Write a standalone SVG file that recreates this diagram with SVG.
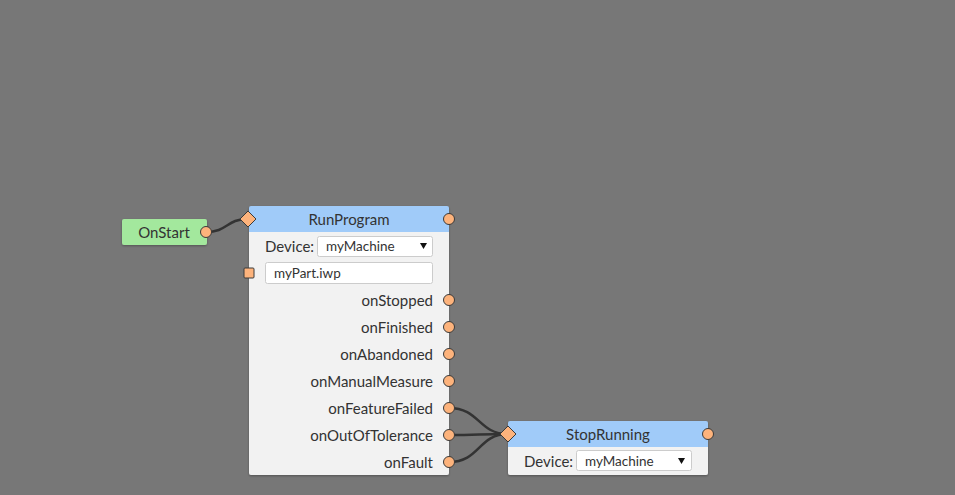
<svg xmlns="http://www.w3.org/2000/svg" width="955" height="495" viewBox="0 0 955 495">
<defs>
<filter id="sh" x="-10%" y="-10%" width="120%" height="130%">
<feDropShadow dx="0" dy="1" stdDeviation="1" flood-color="#000" flood-opacity="0.3"/>
</filter>
</defs>
<style>
text{font-family:"Source Sans Pro",Lato,"Noto Sans",sans-serif;font-size:15px;fill:#333;dominant-baseline:central}
.title{text-anchor:middle;font-size:15px}
.out{text-anchor:end}
.port{fill:#fdb37c;stroke:#3a3a3a;stroke-width:1}
.hdr{fill:#a0cbf9}
.body{fill:#f2f2f2}
.box{fill:#fff;stroke:#ccc;stroke-width:1}
.wire{fill:none;stroke:#333;stroke-width:2.5}
.val{font-size:13.5px}
</style>
<rect width="955" height="495" fill="#777777"/>
<g id="connectors">
<path class="wire" d="M206,232 C228,232 226,219 248,219"/>
<path class="wire" d="M449,408 C480,408 478,434 508,434"/>
<path class="wire" d="M449,435 C478,435 480,434 508,434"/>
<path class="wire" d="M449,462 C480,462 478,434 508,434"/>
</g>
<g id="OnStart">
<rect x="122" y="219" width="85" height="26" rx="2" fill="#a3e89d" filter="url(#sh)"/>
<text class="title" x="164" y="232">OnStart</text>
<circle class="port" cx="206" cy="232" r="5.5"/>
</g>
<g id="RunProgram">
<g filter="url(#sh)">
<path class="body" d="M249,232 H449 V473 a2,2 0 0 1 -2,2 H251 a2,2 0 0 1 -2,-2 Z"/>
<path class="hdr" d="M251,206 H447 a2,2 0 0 1 2,2 V232 H249 V208 a2,2 0 0 1 2,-2 Z"/>
</g>
<text class="title" x="349" y="219">RunProgram</text>
<path class="port" d="M248,211 L256,219 L248,227 L240,219 Z"/>
<circle class="port" cx="449" cy="219" r="5.5"/>
<text x="265" y="246">Device:</text>
<rect class="box" x="317.5" y="236.5" width="115" height="20" rx="2"/>
<text class="val" x="326" y="246">myMachine</text>
<path d="M420,243 h7 l-3.5,6 Z" fill="#111"/>
<rect class="box" x="265.5" y="262.5" width="167" height="21" rx="2"/>
<text class="val" x="274" y="273">myPart.iwp</text>
<rect class="port" x="244" y="268" width="10" height="10" rx="1"/>
<text class="out" x="433" y="300">onStopped</text>
<circle class="port" cx="449" cy="300" r="5.5"/>
<text class="out" x="433" y="327">onFinished</text>
<circle class="port" cx="449" cy="327" r="5.5"/>
<text class="out" x="433" y="354">onAbandoned</text>
<circle class="port" cx="449" cy="354" r="5.5"/>
<text class="out" x="433" y="381">onManualMeasure</text>
<circle class="port" cx="449" cy="381" r="5.5"/>
<text class="out" x="433" y="408">onFeatureFailed</text>
<circle class="port" cx="449" cy="408" r="5.5"/>
<text class="out" x="433" y="435">onOutOfTolerance</text>
<circle class="port" cx="449" cy="435" r="5.5"/>
<text class="out" x="433" y="462">onFault</text>
<circle class="port" cx="449" cy="462" r="5.5"/>
</g>
<g id="StopRunning">
<g filter="url(#sh)">
<path class="body" d="M508,447 H708 V473 a2,2 0 0 1 -2,2 H510 a2,2 0 0 1 -2,-2 Z"/>
<path class="hdr" d="M510,421 H706 a2,2 0 0 1 2,2 V447 H508 V423 a2,2 0 0 1 2,-2 Z"/>
</g>
<text class="title" x="608" y="434">StopRunning</text>
<path class="port" d="M508,426 L516,434 L508,442 L500,434 Z"/>
<circle class="port" cx="708" cy="434" r="5.5"/>
<text x="524" y="461">Device:</text>
<rect class="box" x="576.5" y="450.5" width="115" height="20" rx="2"/>
<text class="val" x="585" y="461">myMachine</text>
<path d="M678,458 h7 l-3.5,6 Z" fill="#111"/>
</g>
</svg>
